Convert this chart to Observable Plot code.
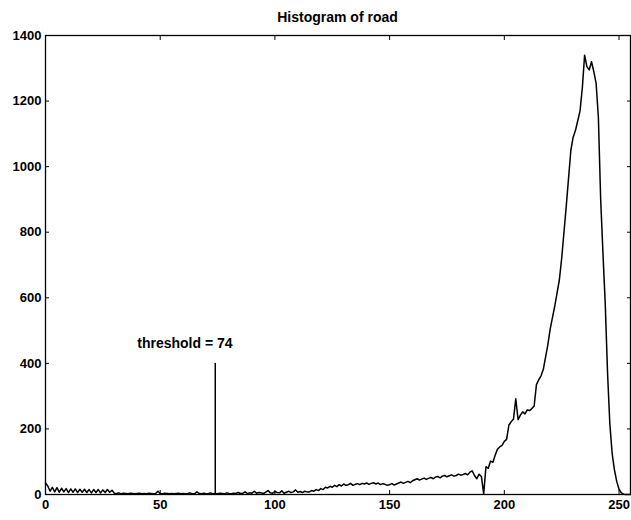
<!DOCTYPE html>
<html><head><meta charset="utf-8">
<script src="https://cdn.jsdelivr.net/npm/d3@7"></script>
<script src="https://cdn.jsdelivr.net/npm/@observablehq/plot@0.6"></script>
<style>
body{margin:0;background:#fff;font-family:"Liberation Sans",Arial,sans-serif;}
#title{height:28px;box-sizing:border-box;padding:9px 1px 0 45px;text-align:center;font-size:14px;line-height:16px;font-weight:bold;color:#000;width:631px;}
</style></head><body>
<div id="title">Histogram of road</div>
<div id="chart"></div>
<script>
// Histogram counts for gray levels 0..255
const counts = [
  // 0-29
  35,26,10,22,8,21,7,19,8,18,6,17,7,17,6,16,7,16,6,15,5,15,6,15,5,14,6,15,7,13,
  // 30-73
  4,3,5,2,4,3,2,4,3,2,3,4,2,3,2,4,3,2,3,10,3,2,4,3,2,3,2,3,4,2,3,2,3,5,2,3,8,3,2,4,2,3,5,2,
  // 74-114
  3,2,4,3,2,5,3,2,4,3,6,3,4,8,3,5,4,10,4,6,5,3,7,12,5,4,9,6,5,11,4,7,10,6,8,14,7,9,6,10,8,
  // 115-160
  8,12,10,15,12,18,15,22,20,25,22,28,24,30,26,32,28,30,34,28,31,33,30,34,32,35,31,34,36,32,
  35,30,33,31,28,30,33,29,32,35,38,34,37,40,36,42,
  // 161-190
  45,48,44,47,50,46,49,52,48,53,55,51,56,58,54,57,60,56,58,62,59,61,64,60,68,72,58,48,62,55,
  // 191-255
  2,85,80,102,98,120,138,145,150,162,
  168,212,222,230,292,228,242,252,246,258,
  256,262,270,335,350,362,382,420,458,505,
  540,575,615,655,720,800,880,965,1050,1090,
  1110,1140,1170,1240,1340,1305,1295,1320,1290,1255,
  1150,900,735,580,370,215,125,75,40,16,
  5,1,0,0,0
];
const grayLevels = counts.map((_, i) => i);

const xDomain = [0, 255];
const yDomain = [0, 1400];
const xTicks = [0, 50, 100, 150, 200, 250];
const yTicks = [0, 200, 400, 600, 800, 1000, 1200, 1400];

const thresholdLevel = [74];
const thresholdTop = [400];
const labelText = ["threshold = 74"];
const labelX = [40];
const labelY = [460];

const data = counts.map((c, i) => ({level: grayLevels[i], count: c}));
const rule = thresholdLevel.map((t, i) => ({x: t, top: thresholdTop[i]}));
const label = labelText.map((t, i) => ({text: t, x: labelX[i], y: labelY[i]}));
const plain = d => String(d);

const chart = Plot.plot({
  width: 631, height: 492,
  marginTop: 7, marginBottom: 26, marginLeft: 45, marginRight: 1,
  style: {fontFamily: "Liberation Sans, Arial, sans-serif", fontSize: "13px", fontWeight: "bold", background: "white", color: "black", overflow: "visible"},
  x: {domain: xDomain},
  y: {domain: yDomain},
  marks: [
    // tick labels
    Plot.axisX(xTicks, {anchor: "bottom", tickSize: 0, tickPadding: 5, tickFormat: plain, label: null}),
    Plot.axisY(yTicks, {anchor: "left", tickSize: 0, tickPadding: 4, tickFormat: plain, label: null}),
    // inward ticks on all four sides
    Plot.axisX(xTicks, {anchor: "bottom", tickSize: 4, dy: -4, tickFormat: () => "", label: null}),
    Plot.axisX(xTicks, {anchor: "top", tickSize: 4, dy: 4, tickFormat: () => "", label: null}),
    Plot.axisY(yTicks, {anchor: "left", tickSize: 4, dx: 4, tickFormat: () => "", label: null}),
    Plot.axisY(yTicks, {anchor: "right", tickSize: 4, dx: -4, tickFormat: () => "", label: null}),
    Plot.line(data, {x: "level", y: "count", stroke: "black", strokeWidth: 1.5}),
    Plot.ruleX(rule, {x: "x", y1: 0, y2: "top", stroke: "black", strokeWidth: 1.5}),
    Plot.text(label, {x: "x", y: "y", text: "text", textAnchor: "start", fontSize: 14, fontWeight: "bold", fill: "black"}),
    Plot.frame({stroke: "black", strokeWidth: 1.3})
  ]
});
document.getElementById("chart").appendChild(chart);
</script></body></html>
